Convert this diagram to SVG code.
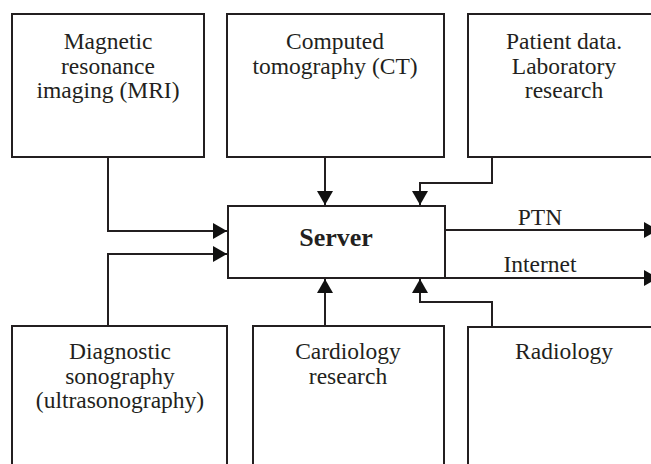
<svg xmlns="http://www.w3.org/2000/svg" width="651" height="464" viewBox="0 0 651 464">
<style>
.box{fill:#fff;stroke:#231f20;stroke-width:2}
.t{font-family:"Liberation Serif","Times New Roman",serif;font-size:23.5px;fill:#231f20;text-anchor:middle}
.b{font-weight:bold;font-size:26px}
.c{fill:none;stroke:#231f20;stroke-width:2}
</style>
<defs>
<marker id="ah" viewBox="0 0 14 16" refX="14" refY="8" markerWidth="14" markerHeight="16" markerUnits="userSpaceOnUse" orient="auto">
<path d="M0,0 L14,8 L0,16 Z" fill="#111"/>
</marker>
</defs>
<rect width="651" height="464" fill="#fff"/>
<g id="connectors">
<path class="c" d="M108,157 V231 H227" marker-end="url(#ah)"/>
<path class="c" d="M108,326 V254 H227" marker-end="url(#ah)"/>
<path class="c" d="M325,157 V205" marker-end="url(#ah)"/>
<path class="c" d="M492,157 V183 H420 V205" marker-end="url(#ah)"/>
<path class="c" d="M325,326 V279" marker-end="url(#ah)"/>
<path class="c" d="M492,326 V302 H420 V279" marker-end="url(#ah)"/>
<path class="c" d="M445,230 H658" marker-end="url(#ah)"/>
<path class="c" d="M445,278 H658" marker-end="url(#ah)"/>
<text class="t" x="540" y="225">PTN</text>
<text class="t" x="540" y="272">Internet</text>
</g>
<g id="mri">
<rect class="box" x="12" y="14" width="192" height="143"/>
<text class="t" x="108" y="49">Magnetic</text>
<text class="t" x="108" y="73.5">resonance</text>
<text class="t" x="108" y="98">imaging (MRI)</text>
</g>
<g id="ct">
<rect class="box" x="227" y="14" width="217" height="143"/>
<text class="t" x="335" y="49">Computed</text>
<text class="t" x="335" y="73.5">tomography (CT)</text>
</g>
<g id="patient">
<rect class="box" x="468" y="14" width="200" height="143"/>
<text class="t" x="564" y="49">Patient data.</text>
<text class="t" x="564" y="73.5">Laboratory</text>
<text class="t" x="564" y="98">research</text>
</g>
<g id="server">
<rect class="box" x="228" y="206" width="217" height="72"/>
<text class="t b" x="336" y="246">Server</text>
</g>
<g id="sono">
<rect class="box" x="12" y="326" width="215" height="150"/>
<text class="t" x="120" y="359">Diagnostic</text>
<text class="t" x="120" y="383.5">sonography</text>
<text class="t" x="120" y="408">(ultrasonography)</text>
</g>
<g id="cardio">
<rect class="box" x="253" y="326" width="191" height="150"/>
<text class="t" x="348" y="359">Cardiology</text>
<text class="t" x="348" y="383.5">research</text>
</g>
<g id="radio">
<rect class="box" x="468" y="327" width="200" height="150"/>
<text class="t" x="564" y="359">Radiology</text>
</g>
</svg>
